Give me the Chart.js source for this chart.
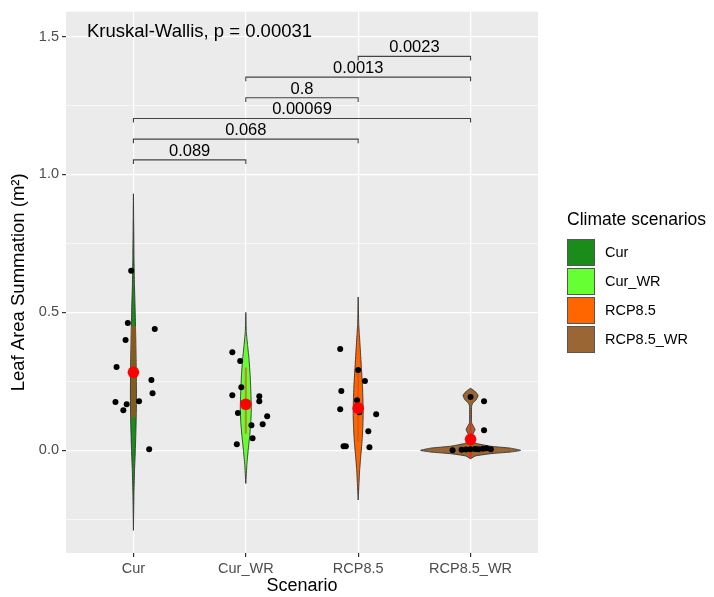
<!DOCTYPE html>
<html>
<head>
<meta charset="utf-8">
<script src="https://cdn.jsdelivr.net/npm/chart.js@4.4.1/dist/chart.umd.min.js"></script>
<style>
  html, body { margin: 0; padding: 0; background: #fff; }
  #wrap { width: 714px; height: 597px; }
</style>
</head>
<body>
<div id="wrap"><canvas id="violinChart"></canvas></div>
<script>
// DATA: surface foliaire par scénario climatique
var scenarios = ['Cur', 'Cur_WR', 'RCP8.5', 'RCP8.5_WR'];
var yTicks = [0, 0.5, 1.0, 1.5];
var yMinor = [-0.25, 0.25, 0.75, 1.25];

// points individuels (valeur y) et leur décalage horizontal (jitter)
var valCur    = [0.651, 0.462, 0.440, 0.400, 0.302, 0.255, 0.207, 0.175, 0.167, 0.145, 0.178, 0.004];
var jitCur    = [-0.02, -0.05, 0.19, -0.07, -0.15, 0.16, 0.17, -0.16, -0.06, -0.09, 0.05, 0.14];
var valCurWR  = [0.356, 0.324, 0.229, 0.200, 0.135, 0.196, 0.178, 0.124, 0.095, 0.091, 0.044, 0.022];
var jitCurWR  = [-0.12, -0.05, -0.04, -0.12, -0.07, 0.12, 0.12, 0.19, 0.15, 0.05, 0.06, -0.08];
var valRCP    = [0.367, 0.291, 0.251, 0.215, 0.182, 0.149, 0.138, 0.131, 0.069, 0.015, 0.015, 0.011];
var jitRCP    = [-0.16, 0.00, 0.06, -0.15, -0.01, -0.16, 0.01, 0.16, 0.09, -0.13, -0.11, 0.10];
var valRCPWR  = [0.193, 0.178, 0.073, 0.000, 0.002, 0.003, 0.004, 0.005, 0.004, 0.006, 0.008, 0.004];
var jitRCPWR  = [0.00, 0.12, 0.12, -0.16, -0.08, -0.04, 0.00, 0.04, 0.07, 0.11, 0.14, 0.18];

// moyennes (points rouges)
var moyennes = [0.283, 0.167, 0.153, 0.040];

// profils des violons : niveaux y et demi-largeur de densité
var violY_Cur   = [0.93, 0.8, 0.7, 0.6, 0.5, 0.4, 0.3, 0.2, 0.1, 0.0, -0.07, -0.15, -0.29];
var violW_Cur   = [0, 0.003, 0.005, 0.009, 0.016, 0.021, 0.025, 0.027, 0.024, 0.017, 0.010, 0.005, 0];
var violY_CurWR = [0.5, 0.43, 0.38, 0.33, 0.27, 0.2, 0.15, 0.1, 0.05, 0.0, -0.05, -0.12];
var violW_CurWR = [0, 0.0045, 0.016, 0.0285, 0.039, 0.046, 0.049, 0.0445, 0.034, 0.021, 0.0098, 0];
var violY_RCP   = [0.556, 0.46, 0.42, 0.36, 0.3, 0.24, 0.18, 0.13, 0.08, 0.03, -0.02, -0.07, -0.12, -0.18];
var violW_RCP   = [0, 0.0045, 0.0107, 0.0196, 0.0285, 0.0374, 0.0427, 0.0445, 0.0409, 0.0338, 0.0231, 0.0133, 0.0071, 0];
var violY_RCPWR = [0.225, 0.215, 0.2, 0.185, 0.17, 0.16, 0.1, 0.09, 0.075, 0.06, 0.05, 0.035, 0.025, 0.015, 0.008, 0.0, -0.006, -0.012, -0.02, -0.03];
var violW_RCPWR = [0, 0.036, 0.067, 0.053, 0.018, 0.009, 0.009, 0.022, 0.040, 0.022, 0.013, 0.018, 0.053, 0.178, 0.356, 0.445, 0.356, 0.178, 0.045, 0];

// boîtes (quartiles)
var boxBas  = [0.12, 0.06, 0.03, -0.03];
var boxHaut = [0.45, 0.30, 0.30, 0.10];

// comparaisons deux à deux
var compDe   = [1, 1, 1, 2, 2, 3];
var compA    = [2, 3, 4, 3, 4, 4];
var compY    = [1.053, 1.128, 1.203, 1.278, 1.353, 1.428];
var compP    = ['0.089', '0.068', '0.00069', '0.8', '0.0013', '0.0023'];
var kwTexte  = 'Kruskal-Wallis, p = 0.00031';
var kwX = 0.587, kwY = 1.518;

// styles
var police = "'Liberation Sans', Arial, sans-serif";
var couleurs = ['#1a8c1a', '#66ff33', '#ff6600', '#9a6633'];
var boxCouleurs = ['rgba(150,85,30,0.85)', 'rgba(200,120,40,0.9)', 'rgba(215,90,15,0.9)', 'rgba(255,30,30,0.8)'];
var boxDemi = [0.022, 0.009, 0.009, 0.009];

var valeurs = [valCur, valCurWR, valRCP, valRCPWR];
var jitters = [jitCur, jitCurWR, jitRCP, jitRCPWR];
var violY = [violY_Cur, violY_CurWR, violY_RCP, violY_RCPWR];
var violW = [violW_Cur, violW_CurWR, violW_RCP, violW_RCPWR];

var datasets = [];

// violons (contour fermé)
scenarios.forEach(function (s, g) {
  var c = g + 1;
  var ys = violY[g], ws = violW[g];
  var pts = [];
  for (var i = ys.length - 1; i >= 0; i--) pts.push({x: c + ws[i], y: ys[i]});
  for (var j = 0; j < ys.length; j++) pts.push({x: c - ws[j], y: ys[j]});
  datasets.push({
    type: 'line', data: pts, order: 10,
    backgroundColor: couleurs[g], borderColor: '#333', borderWidth: 0.9,
    fill: 'shape', pointRadius: 0, tension: 0.12
  });
});

// boîtes
scenarios.forEach(function (s, g) {
  var c = g + 1;
  datasets.push({
    type: 'line', order: 8,
    data: [{x: c - boxDemi[g], y: boxBas[g]}, {x: c + boxDemi[g], y: boxBas[g]},
           {x: c + boxDemi[g], y: boxHaut[g]}, {x: c - boxDemi[g], y: boxHaut[g]},
           {x: c - boxDemi[g], y: boxBas[g]}],
    backgroundColor: boxCouleurs[g], borderColor: 'rgba(0,0,0,0)', borderWidth: 0,
    fill: 'shape', pointRadius: 0, tension: 0
  });
});

// crochets de comparaison
var pied = 0.015;
compDe.forEach(function (d, k) {
  datasets.push({
    type: 'line', order: 6,
    data: [{x: d, y: compY[k] - pied}, {x: d, y: compY[k]}, {x: compA[k], y: compY[k]}, {x: compA[k], y: compY[k] - pied}],
    borderColor: '#444', borderWidth: 1.1, fill: false, pointRadius: 0, tension: 0
  });
});

// points individuels
scenarios.forEach(function (s, g) {
  datasets.push({
    type: 'scatter', order: 3,
    data: valeurs[g].map(function (v, i) { return {x: g + 1 + jitters[g][i], y: v}; }),
    backgroundColor: '#000', borderWidth: 0, pointRadius: 3
  });
});

// moyennes
datasets.push({
  type: 'scatter', order: 1,
  data: moyennes.map(function (v, g) { return {x: g + 1, y: v}; }),
  backgroundColor: '#ff0000', borderWidth: 0, pointRadius: 5.8
});

var fondPanneau = {
  id: 'fondPanneau',
  beforeDraw: function (chart) {
    var ctx = chart.ctx, a = chart.chartArea;
    ctx.save();
    ctx.fillStyle = '#fff';
    ctx.fillRect(0, 0, chart.width, chart.height);
    ctx.fillStyle = '#ebebeb';
    ctx.fillRect(a.left, a.top, a.right - a.left, a.bottom - a.top);
    ctx.restore();
  }
};

var textes = {
  id: 'textes',
  afterDatasetsDraw: function (chart) {
    var ctx = chart.ctx, sx = chart.scales.x, sy = chart.scales.y;
    ctx.save();
    ctx.fillStyle = '#000';
    ctx.textBaseline = 'alphabetic';
    ctx.textAlign = 'center';
    ctx.font = '16.5px ' + police;
    compP.forEach(function (p, k) {
      var xm = sx.getPixelForValue((compDe[k] + compA[k]) / 2);
      ctx.fillText(p, xm, sy.getPixelForValue(compY[k]) - 4);
    });
    ctx.textAlign = 'left';
    ctx.textBaseline = 'middle';
    ctx.font = '18.5px ' + police;
    ctx.fillText(kwTexte, sx.getPixelForValue(kwX), sy.getPixelForValue(kwY));
    ctx.restore();
  },
  afterDraw: function (chart) {
    // légende
    var ctx = chart.ctx;
    var lx = 567, ly = 220;
    ctx.save();
    ctx.fillStyle = '#000';
    ctx.textAlign = 'left';
    ctx.textBaseline = 'middle';
    ctx.font = '17.5px ' + police;
    ctx.fillText('Climate scenarios', lx, ly);
    ctx.font = '14.5px ' + police;
    scenarios.forEach(function (s, g) {
      var top = 239 + g * 29;
      ctx.fillStyle = couleurs[g];
      ctx.fillRect(lx, top, 28, 27);
      ctx.strokeStyle = '#555';
      ctx.lineWidth = 1;
      ctx.strokeRect(lx + 0.5, top + 0.5, 27, 26);
      ctx.fillStyle = '#000';
      ctx.fillText(s, lx + 38, top + 14);
    });
    ctx.restore();
  }
};

function estMajeur(v) {
  return yTicks.some(function (t) { return Math.abs(t - v) < 1e-6; });
}

var ctx = document.getElementById('violinChart').getContext('2d');
var chart = new Chart(ctx, {
  type: 'scatter',
  data: { datasets: datasets },
  options: {
    responsive: true,
    maintainAspectRatio: false,
    animation: false,
    layout: { padding: { left: 0, top: 10, right: 176, bottom: 0 } },
    plugins: { legend: { display: false }, tooltip: { enabled: false } },
    scales: {
      x: {
        type: 'linear', min: 0.4, max: 4.6,
        afterBuildTicks: function (s) { s.ticks = scenarios.map(function (n, i) { return {value: i + 1}; }); },
        afterFit: function (s) { s.height = 44; },
        ticks: {
          callback: function (v) { return scenarios[Math.round(v) - 1]; },
          color: '#4d4d4d', font: { size: 14.5, family: police }, padding: 3, maxRotation: 0, autoSkip: false
        },
        grid: { color: '#fff', lineWidth: 1.2, tickColor: '#333', tickLength: 4 },
        border: { display: false },
        title: { display: true, text: 'Scenario', color: '#000', font: { size: 18, family: police }, padding: { top: 0, bottom: 0 } }
      },
      y: {
        type: 'linear', min: -0.372, max: 1.59,
        afterBuildTicks: function (s) {
          s.ticks = yMinor.concat(yTicks).sort(function (a, b) { return a - b; }).map(function (v) { return {value: v}; });
        },
        afterFit: function (s) { s.width = 66; },
        ticks: {
          callback: function (v) { return estMajeur(v) ? v.toFixed(1) : ''; },
          color: '#4d4d4d', font: { size: 14.5, family: police }, padding: 3
        },
        grid: {
          color: '#fff',
          lineWidth: function (c) { return c.tick && estMajeur(c.tick.value) ? 1.2 : 0.6; },
          tickColor: function (c) { return c.tick && estMajeur(c.tick.value) ? '#333' : 'rgba(0,0,0,0)'; },
          tickLength: 4
        },
        border: { display: false },
        title: { display: true, text: 'Leaf Area Summation (m²)', color: '#000', font: { size: 18.5, family: police }, padding: { top: 8, bottom: 0 } }
      }
    }
  },
  plugins: [fondPanneau, textes]
});
</script>
</body>
</html>
